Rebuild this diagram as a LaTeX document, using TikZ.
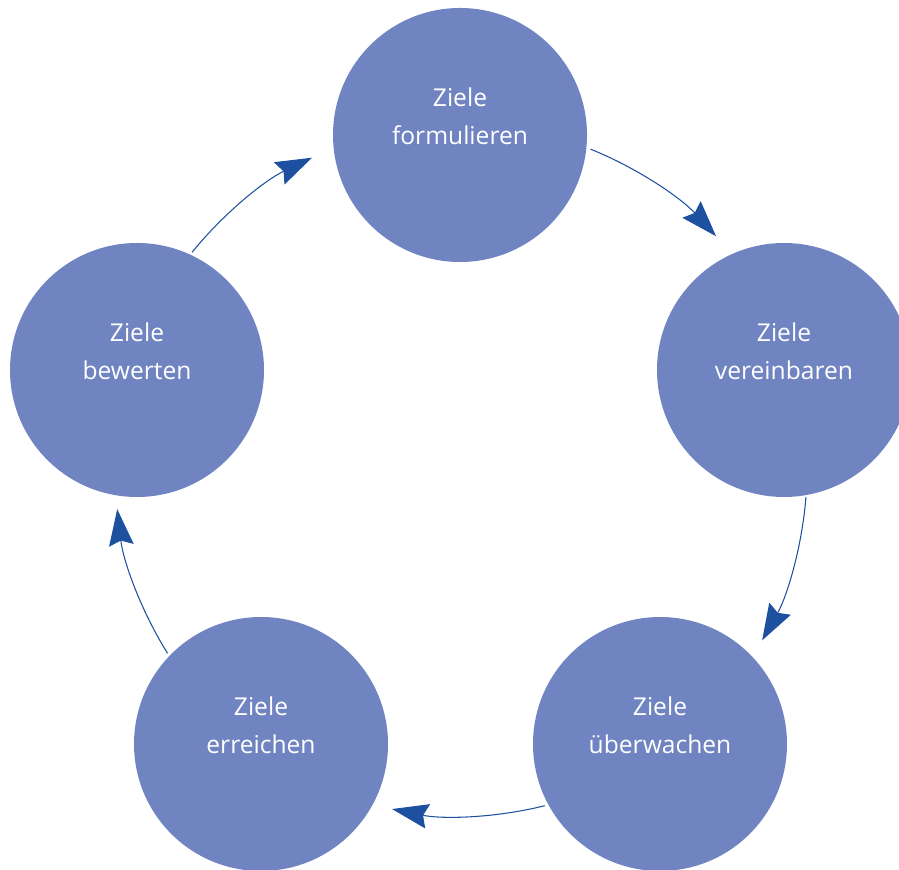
\documentclass[tikz,border=0pt]{standalone}
\usepackage{fontspec}
\setmainfont{Open Sans}
\usetikzlibrary{arrows.meta,calc}
\definecolor{circ}{RGB}{112,132,194}
\definecolor{arrc}{RGB}{30,80,160}
\begin{document}
\begin{tikzpicture}[x=0.03cm,y=0.03cm,
  goal/.style={circle,fill=circ,minimum size=7.62cm,inner sep=0pt,text=white,
    font=\fontsize{21}{32}\selectfont,align=center},
  flow/.style={draw=arrc,line width=0.9pt,-{Stealth[length=31pt,width=21pt,inset=4pt]}}]
\clip (0,0) rectangle (899,869);
\useasboundingbox (0,0) rectangle (899,869);
\coordinate (O) at (461,399);
\coordinate (s1) at ($(O)+(68:346)$);
\coordinate (s2) at ($(O)+(-4.5:346)$);
\coordinate (s3) at ($(O)+(-76:346)$);
\coordinate (s4) at ($(O)+(-148:346)$);
\coordinate (s5) at ($(O)+(141:346)$);
\draw[flow] (s1) arc[start angle=68,end angle=42.5,radius=346];
\draw[flow] (s2) arc[start angle=-4.5,end angle=-29.5,radius=346];
\draw[flow] (s3) arc[start angle=-76,end angle=-101.5,radius=346];
\draw[flow] (s4) arc[start angle=-148,end angle=-173.5,radius=346];
\draw[flow] (s5) arc[start angle=141,end angle=115.5,radius=346];
\node[goal] (n1) at (460,734) {Ziele\\formulieren\\~};
\node[goal] (n2) at (784,499) {Ziele\\vereinbaren\\~};
\node[goal] (n3) at (660,125) {Ziele\\überwachen\\~};
\node[goal] (n4) at (261,125) {Ziele\\erreichen\\~};
\node[goal] (n5) at (137,499) {Ziele\\bewerten\\~};
\end{tikzpicture}
\end{document}
